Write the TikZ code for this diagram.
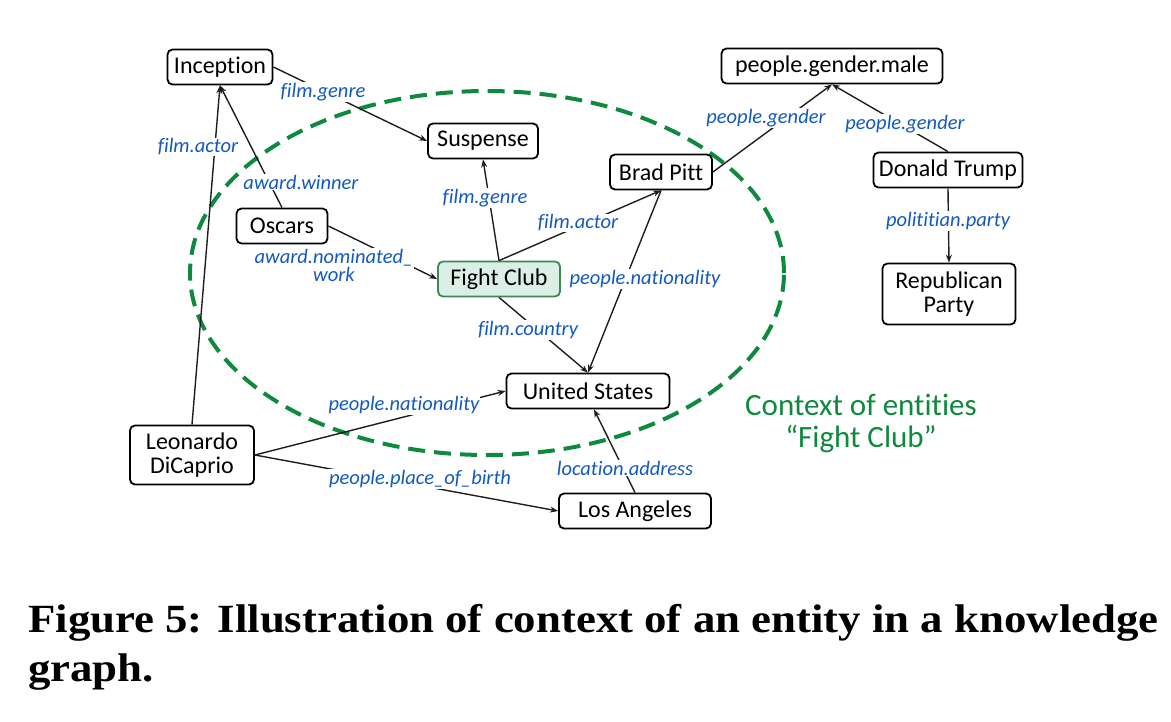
\documentclass[tikz,border=0pt]{standalone}
\usepackage{fontspec}
\setmainfont{Carlito}[Ligatures=CommonOff]
\newfontfamily\capfont[FakeStretch=1.12]{Liberation Serif}
\usetikzlibrary{arrows.meta}
\definecolor{lblblue}{RGB}{20,90,190}
\definecolor{ctxgreen}{RGB}{14,138,62}
\definecolor{fcfill}{RGB}{220,239,230}
\definecolor{fcdraw}{RGB}{60,138,80}
\definecolor{edgec}{RGB}{30,30,30}
\begin{document}
\begin{tikzpicture}[x=1pt,y=-1pt,
  ent/.style={draw=black, fill=white, line width=1.8pt, rounded corners=5pt,
    font=\fontsize{24}{24}\selectfont, inner sep=0pt, minimum height=35pt, align=center},
  fcbox/.style={fill=fcfill, draw=fcdraw},
  lbl/.style={fill=white, inner sep=1pt, text=lblblue,
    font=\fontsize{20.5}{16}\selectfont\itshape, align=center},
  edge/.style={draw=edgec, line width=1.4pt, -{Stealth[length=8pt,width=6pt]}},
  ctx/.style={draw=ctxgreen, line width=4pt, dash pattern=on 17pt off 9pt},
  ctxtext/.style={text=ctxgreen, font=\fontsize{31}{32}\selectfont, align=center, inner sep=0pt},
  captext/.style={anchor=base west, inner sep=0pt, font=\capfont\bfseries\fontsize{40}{48}\selectfont}]
\useasboundingbox (0,0) rectangle (1171,721);

% context ellipse
\draw[ctx] (487,273) ellipse [x radius=297pt, y radius=182pt];

% entities
\node[ent, minimum width=105pt] (inc) at (220,67) {Inception};
\node[ent, minimum width=110pt] (sus) at (483,141) {Suspense};
\node[ent, minimum width=102pt] (bp) at (661,172) {Brad Pitt};
\node[ent, minimum width=221pt] (pgm) at (832,66) {people.gender.male};
\node[ent, minimum width=149pt] (dt) at (948,170) {Donald Trump};
\node[ent, minimum width=133pt, minimum height=61pt] (rp) at (949,294) {Republican\\Party};
\node[ent, minimum width=91pt] (osc) at (282,226) {Oscars};
\node[ent, fcbox, minimum width=122pt] (fc) at (499,279) {Fight Club};
\node[ent, minimum width=163pt] (us) at (588,391) {United States};
\node[ent, minimum width=124pt, minimum height=59pt] (leo) at (192,455) {Leonardo\\DiCaprio};
\node[ent, minimum width=152pt] (la) at (635,511) {Los Angeles};

% relations
\draw[edge] (inc.east) -- (sus.west);
\draw[edge] (leo.north) -- (inc.south);
\draw[edge] (osc.north) -- (inc.south);
\draw[edge] (osc.east) -- (fc.west);
\draw[edge] (fc.north) -- (sus.south);
\draw[edge] (fc.north) -- (bp.south);
\draw[edge] (bp.east) -- (pgm.south);
\draw[edge] (dt.north) -- (pgm.south);
\draw[edge] (dt.south) -- (rp.north);
\draw[edge] (bp.south) -- (us.north);
\draw[edge] (fc.south) -- (us.north);
\draw[edge] (leo.east) -- (us.west);
\draw[edge] (leo.east) -- (la.west);
\draw[edge] (la.north) -- ([xshift=6pt]us.south);

% relation labels
\node[lbl] (l1) at (323,92) {film.genre};
\node[lbl] (l2) at (198,147) {film.actor};
\node[lbl] (l3) at (301,182) {award.winner};
\node[lbl] (l4) at (334,265) {award.nominated\_\\work};
\node[lbl] (l5) at (485,198) {film.genre};
\node[lbl] (l6) at (578,223) {film.actor};
\node[lbl] (l7) at (645,279) {people.nationality};
\node[lbl] (l8) at (528,330) {film.country};
\node[lbl] (l9) at (766,118) {people.gender};
\node[lbl] (l10) at (905,124) {people.gender};
\node[lbl] (l11) at (948,221) {polititian.party};
\node[lbl] (l12) at (404,405) {people.nationality};
\node[lbl] (l13) at (420,479) {people.place\_of\_birth};
\node[lbl] (l14) at (625,468) {location.address};

% context caption
\node[ctxtext] (ctxlabel) at (861,423) {Context of entities\\``Fight Club''};

% figure caption
\node[captext] (cap1) at (28,632) {Figure 5: Illustration of context of an entity in a knowledge};
\node[captext] (cap2) at (28,681) {graph.};
\end{tikzpicture}
\end{document}
